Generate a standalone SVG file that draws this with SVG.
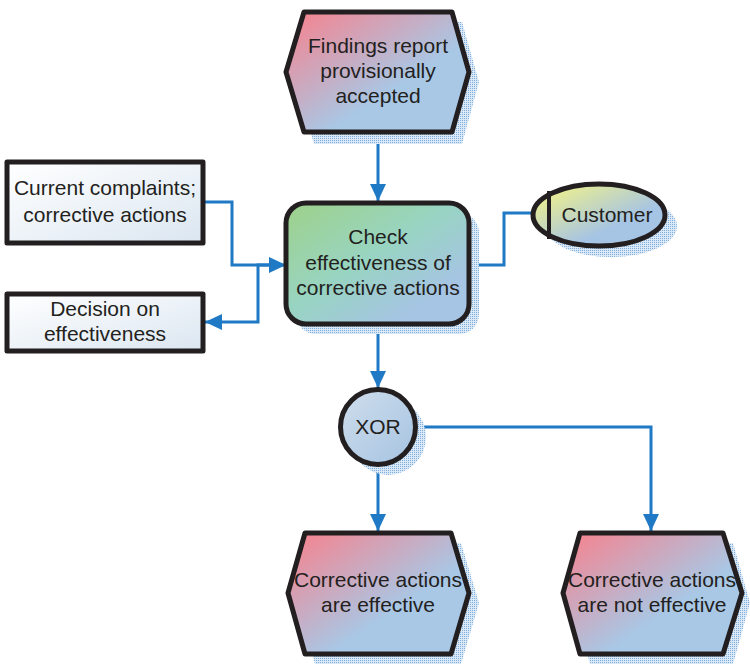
<svg xmlns="http://www.w3.org/2000/svg" width="750" height="667" viewBox="0 0 750 667">
  <defs>
    <linearGradient id="gEvent" x1="0" y1="0" x2="1" y2="1">
      <stop offset="0" stop-color="#f9808b"/>
      <stop offset="0.62" stop-color="#a8c8e6"/>
      <stop offset="1" stop-color="#a8c8e6"/>
    </linearGradient>
    <linearGradient id="gFunc" x1="0" y1="0" x2="1" y2="1">
      <stop offset="0" stop-color="#9ed189"/>
      <stop offset="0.45" stop-color="#98d4c2"/>
      <stop offset="0.8" stop-color="#a6c4e4"/>
    </linearGradient>
    <linearGradient id="gInfo" x1="0" y1="0" x2="1" y2="1">
      <stop offset="0" stop-color="#ffffff"/>
      <stop offset="1" stop-color="#dbe6f1"/>
    </linearGradient>
    <linearGradient id="gOrg" x1="0" y1="0" x2="1" y2="1">
      <stop offset="0.1" stop-color="#eef08c"/>
      <stop offset="0.65" stop-color="#a6c4e4"/>
    </linearGradient>
    <linearGradient id="gXor" x1="0" y1="0" x2="1" y2="1">
      <stop offset="0" stop-color="#cfdeec"/>
      <stop offset="1" stop-color="#a6c3e2"/>
    </linearGradient>
    <pattern id="dots" width="2" height="2" patternUnits="userSpaceOnUse">
      <rect width="2" height="2" fill="#dbe8f5"/>
      <rect width="1" height="1" fill="#7eaedd"/>
    </pattern>
    <marker id="arr" markerUnits="userSpaceOnUse" markerWidth="18" markerHeight="16" refX="17" refY="8" orient="auto">
      <path d="M0,0 L17,8 L0,16 z" fill="#1f79c4"/>
    </marker>
  </defs>
  <style>
    .shape { stroke: #231f20; stroke-width: 5; stroke-linejoin: round; }
    .shadow { fill: url(#dots); }
    .lbl { font-family: "Liberation Sans", Arial, sans-serif; font-size: 21px; fill: #231f20; text-anchor: middle; }
    .conn { fill: none; stroke: #1f79c4; stroke-width: 3; }
  </style>

  <!-- connectors -->
  <g id="connectors">
    <path class="conn" d="M378,135 V201" marker-end="url(#arr)"/>
    <path class="conn" d="M205,202 H232 V265 H286" marker-end="url(#arr)"/>
    <path class="conn" d="M272,265 H258 V322 H205" marker-end="url(#arr)"/>
    <path class="conn" d="M469,265 H504 V213 H532"/>
    <path class="conn" d="M378,327 V388" marker-end="url(#arr)"/>
    <path class="conn" d="M378,467 V531" marker-end="url(#arr)"/>
    <path class="conn" d="M418,427 H651 V531" marker-end="url(#arr)"/>
  </g>

  <!-- event: findings report provisionally accepted -->
  <g id="ev-findings">
    <polygon class="shadow" points="314,22 462,22 479,82 462,144 314,144 296,82"/>
    <polygon class="shape" fill="url(#gEvent)" points="304,12 452,12 469,72 452,132 304,132 286,72"/>
    <text class="lbl" x="378" y="53">Findings report</text>
    <text class="lbl" x="378" y="78">provisionally</text>
    <text class="lbl" x="378" y="103">accepted</text>
  </g>

  <!-- information: current complaints -->
  <g id="info-complaints">
    <rect class="shape" x="7" y="162" width="196" height="81" fill="url(#gInfo)" stroke-width="4"/>
    <text class="lbl" x="105" y="195">Current complaints;</text>
    <text class="lbl" x="105" y="222">corrective actions</text>
  </g>

  <!-- information: decision on effectiveness -->
  <g id="info-decision">
    <rect class="shape" x="7" y="294" width="196" height="57" fill="url(#gInfo)" stroke-width="4"/>
    <text class="lbl" x="105" y="316">Decision on</text>
    <text class="lbl" x="105" y="341">effectiveness</text>
  </g>

  <!-- function: check effectiveness -->
  <g id="fn-check">
    <rect class="shadow" x="296" y="213" width="183" height="121" rx="20"/>
    <rect class="shape" fill="url(#gFunc)" x="286" y="203" width="183" height="121" rx="20"/>
    <text class="lbl" x="378" y="244">Check</text>
    <text class="lbl" x="378" y="270">effectiveness of</text>
    <text class="lbl" x="378" y="295">corrective actions</text>
  </g>

  <!-- organisational unit: customer -->
  <g id="org-customer">
    <ellipse class="shadow" cx="611" cy="226" rx="66" ry="31"/>
    <ellipse class="shape" fill="url(#gOrg)" cx="599" cy="215" rx="66" ry="31"/>
    <line x1="549" y1="191" x2="549" y2="239" stroke="#231f20" stroke-width="4"/>
    <text class="lbl" x="607" y="222">Customer</text>
  </g>

  <!-- rule: XOR -->
  <g id="xor">
    <circle class="shadow" cx="388" cy="437" r="38"/>
    <circle class="shape" fill="url(#gXor)" cx="378" cy="427" r="37.5"/>
    <text class="lbl" x="378" y="434">XOR</text>
  </g>

  <!-- event: corrective actions are effective -->
  <g id="ev-effective">
    <polygon class="shadow" points="315,543 461,543 479,603 461,664 315,664 298,603"/>
    <polygon class="shape" fill="url(#gEvent)" points="305,533 451,533 469,593 451,654 305,654 288,593"/>
    <text class="lbl" x="378" y="587">Corrective actions</text>
    <text class="lbl" x="378" y="612">are effective</text>
  </g>

  <!-- event: corrective actions are not effective -->
  <g id="ev-not-effective">
    <polygon class="shadow" points="590,543 733,543 750,603 733,664 590,664 573,603"/>
    <polygon class="shape" fill="url(#gEvent)" points="580,533 723,533 742,593 723,654 580,654 563,593"/>
    <text class="lbl" x="652" y="587">Corrective actions</text>
    <text class="lbl" x="652" y="612">are not effective</text>
  </g>
</svg>
